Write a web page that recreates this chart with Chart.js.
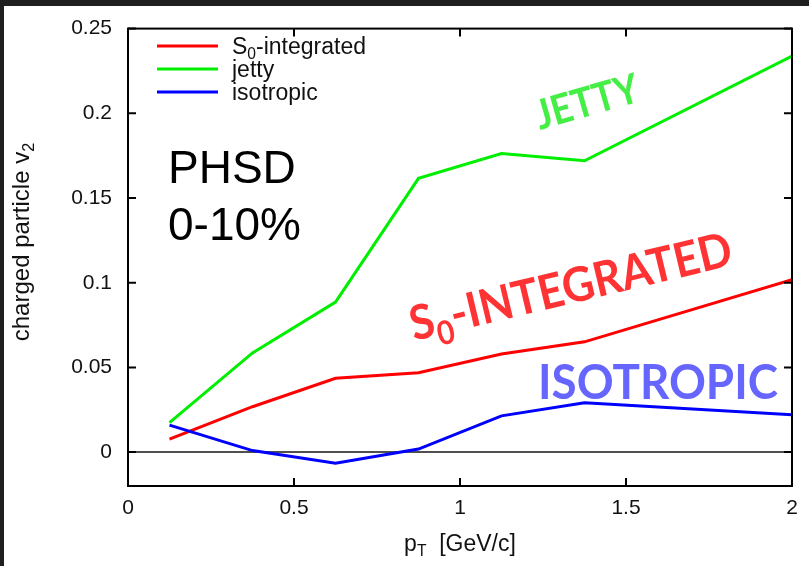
<!DOCTYPE html>
<html>
<head>
<meta charset="utf-8">
<script src="https://cdn.jsdelivr.net/npm/chart.js@4.4.1/dist/chart.umd.min.js"></script>
<style>
    html, body { margin: 0; padding: 0; background: #1f1f1f; }
    canvas { display: block; }
</style>
</head>
<body>
<canvas id="v2Chart" width="809" height="566"></canvas>
<script>
// pT bins and v2 values
const ptValues = [0.125, 0.375, 0.625, 0.875, 1.125, 1.375, 2.0];
const integratedV2 = [0.0077, 0.0268, 0.0436, 0.0469, 0.0579, 0.0651, 0.1018];
const jettyV2 = [0.0174, 0.0586, 0.0886, 0.1616, 0.1763, 0.172, 0.2338];
const isotropicV2 = [0.0159, 0.0009, -0.0065, 0.0018, 0.0214, 0.0292, 0.022];

const seriesLabels = ['S_0-integrated', 'jetty', 'isotropic'];
const seriesColors = ['#ff0000', '#00ee00', '#0000ff'];

const xTicks = [0, 0.5, 1, 1.5, 2];
const yTicks = [0, 0.05, 0.1, 0.15, 0.2, 0.25];

const SANS = "'Liberation Sans', Arial, sans-serif";
const BOLD = "Lato, 'Open Sans', sans-serif";

function toPoints(values) {
    return values.map((v, i) => ({ x: ptValues[i], y: v }));
}

// "S_0-integrated" -> [S][0 sub][-integrated]
function splitRich(text) {
    const parts = [];
    const re = /_(.)/g;
    let last = 0, m;
    while ((m = re.exec(text)) !== null) {
        if (m.index > last) parts.push({ t: text.slice(last, m.index) });
        parts.push({ t: m[1], sub: true });
        last = re.lastIndex;
    }
    if (last < text.length) parts.push({ t: text.slice(last) });
    return parts;
}

function richWidth(ctx, parts, size, family, weight) {
    let w = 0;
    parts.forEach(p => {
        ctx.font = `${weight} ${p.sub ? size * 0.68 : size}px ${family}`;
        w += ctx.measureText(p.t).width;
    });
    return w;
}

function drawRich(ctx, parts, x, y, size, family, weight) {
    let cx = x;
    parts.forEach(p => {
        ctx.font = `${weight} ${p.sub ? size * 0.68 : size}px ${family}`;
        ctx.fillText(p.t, cx, p.sub ? y + size * 0.22 : y);
        cx += ctx.measureText(p.t).width;
    });
}

// big labels inside the plot: text, baseline start, angle, width along baseline
const plotLabels = [
    { text: 'PHSD', x: 168, y: 183, angle: 0, size: 46, family: SANS, weight: 'normal', color: '#000' },
    { text: '0-10%', x: 168, y: 240, angle: 0, size: 46, family: SANS, weight: 'normal', color: '#000' },
    { text: 'JETTY', x: 540, y: 130, angle: 16, size: 41, fit: 106, family: BOLD, weight: 'bold', color: '#44ee44' },
    { text: 'S_0-INTEGRATED', x: 414, y: 341, angle: 13.4, size: 48, fit: 330, family: BOLD, weight: 'bold', color: '#ff3333' },
    { text: 'ISOTROPIC', x: 538, y: 399, angle: 0, size: 47, fit: 240, family: BOLD, weight: 'bold', color: '#6666ff' }
];

const framePlugin = {
    id: 'frame',
    beforeDraw(chart) {
        const ctx = chart.ctx;
        ctx.save();
        ctx.fillStyle = '#ffffff';
        ctx.fillRect(0, 0, chart.width, chart.height);
        ctx.fillStyle = '#1f1f1f';
        ctx.fillRect(0, 0, chart.width, 6);
        ctx.fillRect(0, 0, 4, chart.height);
        ctx.restore();
    },
    afterDraw(chart) {
        const ctx = chart.ctx;
        const a = chart.chartArea;
        const xs = chart.scales.x, ys = chart.scales.y;
        ctx.save();

        // box + inward ticks on all four sides
        ctx.strokeStyle = '#000';
        ctx.lineWidth = 2;
        ctx.strokeRect(a.left, a.top, a.right - a.left, a.bottom - a.top);
        ctx.beginPath();
        xTicks.forEach(v => {
            const px = xs.getPixelForValue(v);
            ctx.moveTo(px, a.bottom); ctx.lineTo(px, a.bottom - 8);
            ctx.moveTo(px, a.top); ctx.lineTo(px, a.top + 8);
        });
        yTicks.forEach(v => {
            const py = ys.getPixelForValue(v);
            ctx.moveTo(a.left, py); ctx.lineTo(a.left + 8, py);
            ctx.moveTo(a.right, py); ctx.lineTo(a.right - 8, py);
        });
        ctx.stroke();

        // legend, top left inside the plot
        ctx.textAlign = 'left';
        ctx.textBaseline = 'alphabetic';
        chart.data.datasets.forEach((ds, i) => {
            const y = 46 + i * 23;
            ctx.strokeStyle = ds.borderColor;
            ctx.lineWidth = 3;
            ctx.beginPath();
            ctx.moveTo(157, y);
            ctx.lineTo(218, y);
            ctx.stroke();
            ctx.fillStyle = '#111';
            drawRich(ctx, splitRich(ds.label), 232, y + 8, 23, SANS, 'normal');
        });

        // annotations (bold ones squeezed to the width seen in the figure)
        plotLabels.forEach(l => {
            const parts = splitRich(l.text);
            ctx.save();
            ctx.translate(l.x, l.y);
            ctx.rotate(-l.angle * Math.PI / 180);
            if (l.fit) ctx.scale(l.fit / richWidth(ctx, parts, l.size, l.family, l.weight), 1);
            ctx.fillStyle = l.color;
            drawRich(ctx, parts, 0, 0, l.size, l.family, l.weight);
            ctx.restore();
        });

        // axis titles
        ctx.fillStyle = '#111';
        const xt = splitRich('p_T  [GeV/c]');
        const xw = richWidth(ctx, xt, 23, SANS, 'normal');
        drawRich(ctx, xt, (a.left + a.right) / 2 - xw / 2, 551, 23, SANS, 'normal');

        const yt = splitRich('charged particle v_2');
        const yw = richWidth(ctx, yt, 24, SANS, 'normal');
        ctx.save();
        ctx.translate(29, 242);
        ctx.rotate(-Math.PI / 2);
        drawRich(ctx, yt, -yw / 2, 0, 24, SANS, 'normal');
        ctx.restore();

        ctx.restore();
    }
};

const tickFont = { family: SANS, size: 21 };

new Chart(document.getElementById('v2Chart'), {
    type: 'line',
    data: {
        datasets: [
            { label: seriesLabels[0], data: toPoints(integratedV2), borderColor: seriesColors[0], order: 1 },
            { label: seriesLabels[1], data: toPoints(jettyV2), borderColor: seriesColors[1], order: 2 },
            { label: seriesLabels[2], data: toPoints(isotropicV2), borderColor: seriesColors[2], order: 0 }
        ]
    },
    options: {
        responsive: false,
        animation: false,
        elements: {
            line: { borderWidth: 3, tension: 0, fill: false },
            point: { radius: 0, hoverRadius: 0 }
        },
        layout: { padding: { top: 28, right: 17, bottom: 0, left: 0 } },
        plugins: {
            legend: { display: false },
            tooltip: { enabled: false }
        },
        scales: {
            x: {
                type: 'linear',
                min: 0,
                max: 2,
                afterBuildTicks: s => { s.ticks = xTicks.map(v => ({ value: v })); },
                afterFit: s => { s.height = 80; },
                grid: { display: false, drawTicks: false },
                border: { display: false },
                ticks: { padding: 10, font: tickFont, color: '#111', maxRotation: 0, autoSkip: false, callback: v => String(v) }
            },
            y: {
                type: 'linear',
                min: -0.02,
                max: 0.25,
                afterBuildTicks: s => { s.ticks = yTicks.map(v => ({ value: v })); },
                afterFit: s => { s.width = 128; },
                grid: {
                    drawTicks: false,
                    lineWidth: 2,
                    color: c => (c.tick && c.tick.value === 0 ? '#505050' : 'rgba(0,0,0,0)')
                },
                border: { display: false },
                ticks: { padding: 16, font: tickFont, color: '#111', autoSkip: false, callback: v => String(+v.toFixed(2)) }
            }
        }
    },
    plugins: [framePlugin]
});
</script>
</body>
</html>
